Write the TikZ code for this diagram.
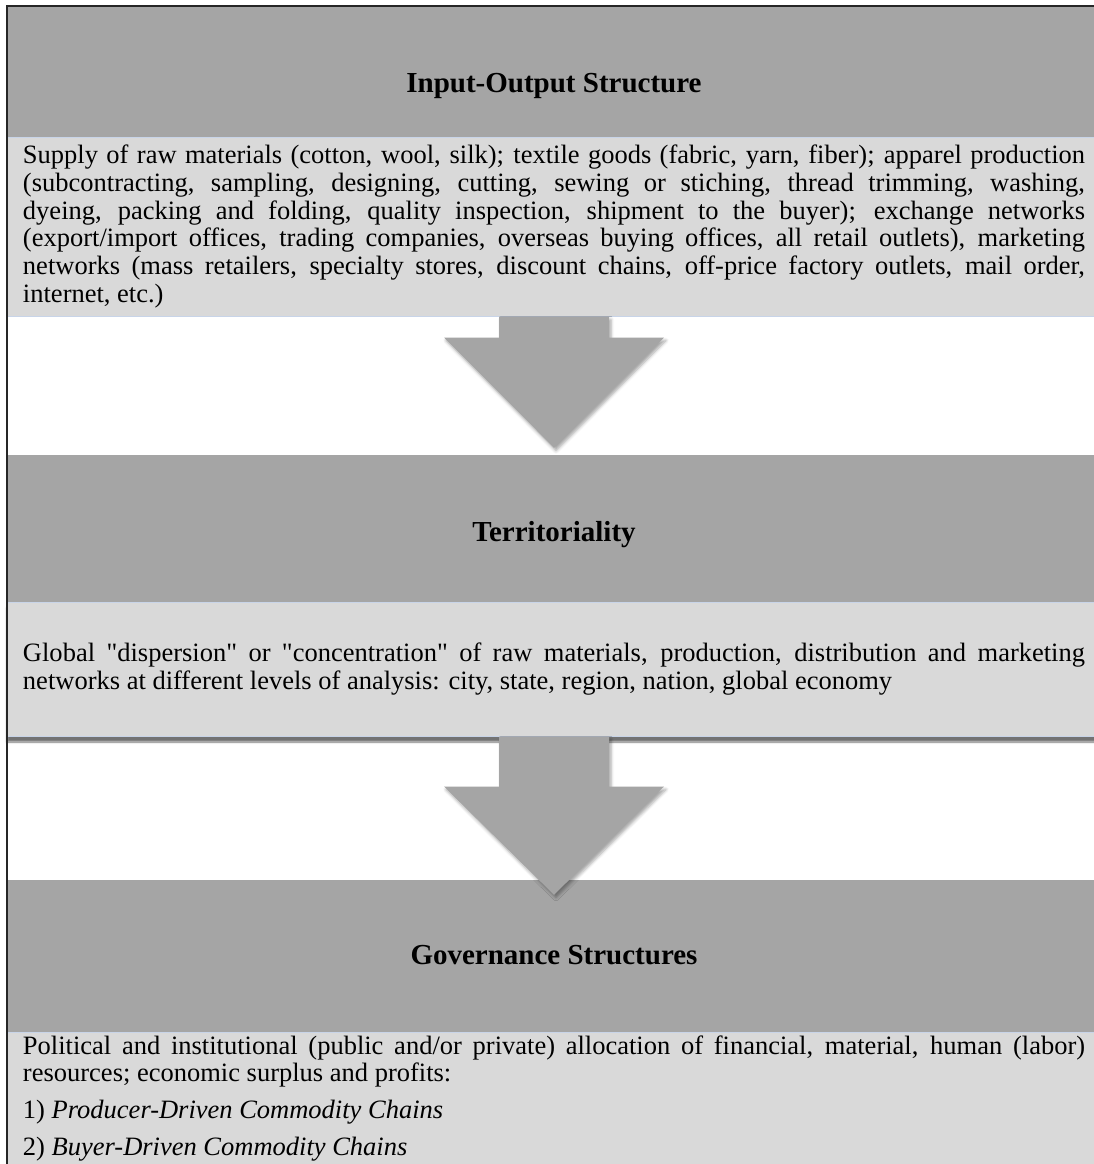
\documentclass[tikz,border=0pt]{standalone}
\usepackage{fontspec}
\setmainfont{Liberation Serif}
\usetikzlibrary{calc,shadows.blur}

\definecolor{headgray}{HTML}{A5A5A5}
\definecolor{bodygray}{HTML}{D9D9D9}
\definecolor{edgeblue}{HTML}{C8D4E8}

\begin{document}
\begin{tikzpicture}[x=1pt,y=1pt,
  headbox/.style={rectangle,fill=headgray,minimum width=1094,inner sep=0,text depth=6pt,
    font=\fontsize{29}{34}\selectfont\bfseries},
  bodybox/.style={rectangle,fill=bodygray,draw=edgeblue,line width=1pt,
    minimum width=1094,text width=1062,inner xsep=16,inner ysep=3,align=justify,
    font=\fontsize{26.5}{27.7}\selectfont},
  blockarrow/.style={fill=headgray,
    blur shadow={shadow xshift=2pt,shadow yshift=-3pt,shadow blur radius=3pt,shadow opacity=35}}]

\useasboundingbox (0,0) rectangle (1094,-1164);
\clip (0,0) rectangle (1094,-1164);

% input-output structure
\node[headbox,minimum height=131,text height=48pt] (ioHead) at (554,-71.5) {Input-Output Structure};
\node[bodybox,minimum height=179] (ioBody) at (554,-226.5) {Supply of raw materials (cotton, wool, silk); textile goods (fabric, yarn, fiber); apparel production \linebreak
(subcontracting, sampling, designing, cutting, sewing or stiching, thread trimming, washing, \linebreak
dyeing, packing and folding, quality inspection, shipment to the buyer); exchange networks \linebreak
(export/import offices, trading companies, overseas buying offices, all retail outlets), marketing \linebreak
networks (mass retailers, specialty stores, discount chains, off-price factory outlets, mail order, \linebreak
internet, etc.)};

% territoriality
\node[headbox,minimum height=147,text height=32pt] (terrHead) at (554,-528.5) {Territoriality};
\node[bodybox,minimum height=134,
  blur shadow={shadow xshift=0pt,shadow yshift=-6pt,shadow blur radius=2pt,shadow opacity=55}]
  (terrBody) at (554,-669) {Global \textquotedbl dispersion\textquotedbl{} or \textquotedbl concentration\textquotedbl{} of raw materials, production, distribution and marketing \linebreak
networks at different levels of analysis: city, state, region, nation, global economy};

% governance structures
\node[headbox,minimum height=152,text height=23pt] (govHead) at (554,-956) {Governance Structures};
\node[bodybox,anchor=north,text depth=130pt] (govBody) at (554,-1032) {\parskip=9pt
Political and institutional (public and/or private) allocation of financial, material, human (labor) \linebreak
resources; economic surplus and profits:\par
1) \textit{Producer-Driven Commodity Chains}\par
2) \textit{Buyer-Driven Commodity Chains}};

% block arrows
\fill[blockarrow] ($(ioBody.south)+(-55,0)$) -- ++(0,-21) -- ++(-55,0)
  -- ($(terrHead.north)+(0,7)$) -- ($(ioBody.south)+(110,-21)$) -- ++(-55,0)
  -- ($(ioBody.south)+(55,0)$) -- cycle;
\fill[blockarrow] ($(terrBody.south)+(-55,0)$) -- ++(0,-50) -- ++(-55,0)
  -- ($(govHead.north)+(0,-15)$) -- ($(terrBody.south)+(110,-50)$) -- ++(-55,0)
  -- ($(terrBody.south)+(55,0)$) -- cycle;

% frame
\draw[black!85,line width=1.3pt] (7,-1180) -- (7,-6) -- (1110,-6);

\end{tikzpicture}
\end{document}
